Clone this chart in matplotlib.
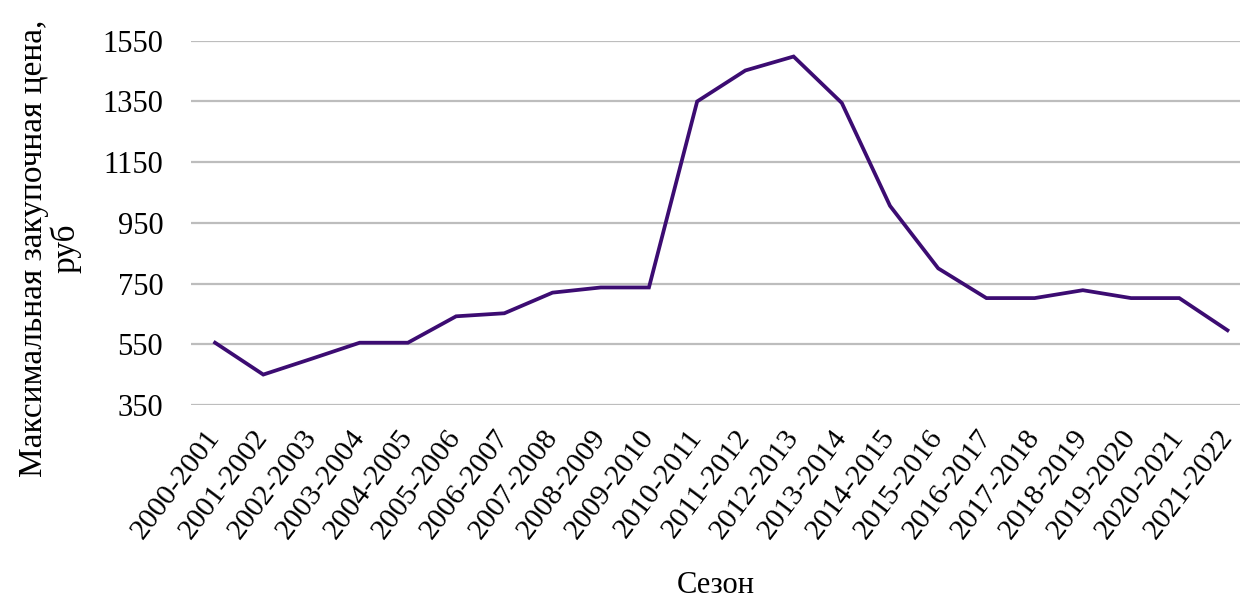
import matplotlib
matplotlib.use("Agg")
import matplotlib.pyplot as plt
import matplotlib.transforms as mtransforms
import numpy as np

# Maximum purchase price per season, rubles
SEASONS = [
    "2000-2001", "2001-2002", "2002-2003", "2003-2004", "2004-2005",
    "2005-2006", "2006-2007", "2007-2008", "2008-2009", "2009-2010",
    "2010-2011", "2011-2012", "2012-2013", "2013-2014", "2014-2015",
    "2015-2016", "2016-2017", "2017-2018", "2018-2019", "2019-2020",
    "2020-2021", "2021-2022",
]
PRICES = [
    555, 450, 502, 555, 555,
    642, 652, 720, 737, 737,
    1350, 1452, 1498, 1345, 1006,
    800, 702, 702, 728, 702,
    702, 596,
]
Y_TICKS = [350, 550, 750, 950, 1150, 1350, 1550]

plt.rcParams["font.family"] = ["Liberation Serif", "DejaVu Serif"]

fig = plt.figure(figsize=(12.4, 5.99), dpi=100)
ax = fig.add_axes([0.154, 0.324, 0.846, 0.608])

x = np.arange(len(SEASONS))
ax.plot(x, PRICES, color="#3c0c72", linewidth=2.7, solid_joinstyle="miter", zorder=3)

ax.set_ylim(350, 1550)
ax.set_xlim(-0.5, 21.26)
ax.set_yticks(Y_TICKS)
ax.set_yticklabels([str(v) for v in Y_TICKS], fontsize=22)
ax.set_xticks(x)
ax.set_xticklabels(SEASONS, fontsize=21.5, rotation=53, ha="right",
                   rotation_mode="anchor", va="center")

# nudge the slanted season labels a little to the left of their ticks
shift = mtransforms.ScaledTranslation(-0.10, 0, fig.dpi_scale_trans)
for lbl in ax.get_xticklabels():
    lbl.set_transform(lbl.get_transform() + shift)

ax.grid(axis="y", color="#bdbdbd", linewidth=1.6)
ax.set_axisbelow(True)
for s in ax.spines.values():
    s.set_visible(False)
ax.tick_params(axis="both", length=0)
ax.tick_params(axis="y", pad=20)
ax.tick_params(axis="x", pad=20)

ax.set_ylabel("Максимальная закупочная цена,\nруб", fontsize=24,
              linespacing=1.05)
ax.yaxis.set_label_coords(-0.104, 0.43)
ax.set_xlabel("Сезон", fontsize=22)
ax.xaxis.set_label_coords(0.5, -0.455)

fig.savefig("out.png", dpi=100)
